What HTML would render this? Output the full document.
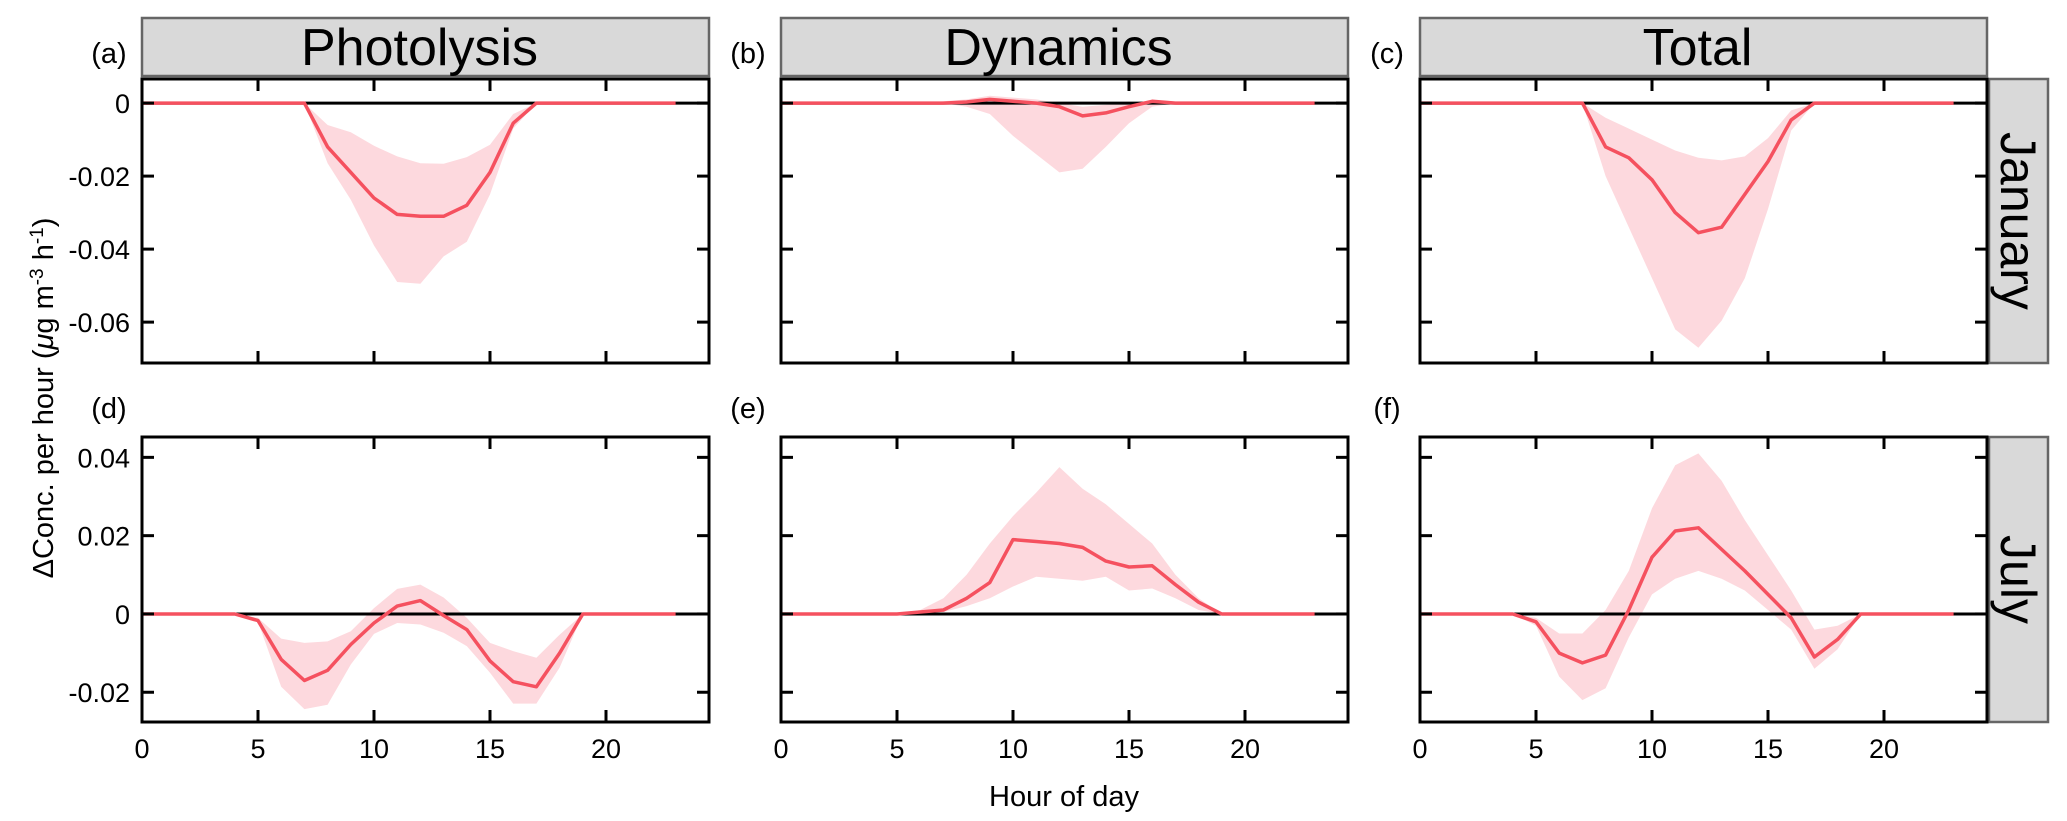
<!DOCTYPE html>
<html><head><meta charset="utf-8"><style>
html,body{margin:0;padding:0;background:#fff;}
svg{display:block;font-family:"Liberation Sans",sans-serif;}
</style></head><body>
<svg id="chart" width="2067" height="821" viewBox="0 0 2067 821"></svg>
<script>
const hours = [0,1,2,3,4,5,6,7,8,9,10,11,12,13,14,15,16,17,18,19,20,21,22,23];
const xTicks = [0,5,10,15,20];
const janTicks = [0,-0.02,-0.04,-0.06];
const julTicks = [0.04,0.02,0,-0.02];
const colTitles = ["Photolysis","Dynamics","Total"];
const rowTitles = ["January","July"];
const panelLabels = ["(a)","(b)","(c)","(d)","(e)","(f)"];

const aMean = [0,0,0,0,0,0,0,0,-0.012,-0.019,-0.026,-0.0305,-0.031,-0.031,-0.028,-0.019,-0.0055,0,0,0,0,0,0,0];
const aHigh = [0,0,0,0,0,0,0,0,-0.006,-0.008,-0.0117,-0.0146,-0.0165,-0.0166,-0.0148,-0.0114,-0.003,0,0,0,0,0,0,0];
const aLow  = [0,0,0,0,0,0,0,0,-0.0165,-0.0265,-0.039,-0.049,-0.0495,-0.042,-0.038,-0.025,-0.007,0,0,0,0,0,0,0];
const bMean = [0,0,0,0,0,0,0,0,0.0003,0.001,0.0005,0,-0.001,-0.0035,-0.0027,-0.001,0.0005,0,0,0,0,0,0,0];
const bHigh = [0,0,0,0,0,0,0,0.0005,0.001,0.002,0.0015,0.001,0,-0.001,-0.0005,0,0.0008,0,0,0,0,0,0,0];
const bLow  = [0,0,0,0,0,0,0,0,-0.001,-0.003,-0.009,-0.014,-0.019,-0.018,-0.012,-0.0055,-0.001,0,0,0,0,0,0,0];
const cMean = [0,0,0,0,0,0,0,0,-0.012,-0.015,-0.021,-0.030,-0.0355,-0.034,-0.025,-0.016,-0.0046,0,0,0,0,0,0,0];
const cHigh = [0,0,0,0,0,0,0,0,-0.004,-0.007,-0.010,-0.013,-0.015,-0.0157,-0.0146,-0.0096,-0.002,0,0,0,0,0,0,0];
const cLow  = [0,0,0,0,0,0,0,0,-0.02,-0.034,-0.048,-0.062,-0.067,-0.0596,-0.048,-0.029,-0.0075,0,0,0,0,0,0,0];
const dMean = [0,0,0,0,0,-0.0017,-0.0116,-0.017,-0.0144,-0.0078,-0.0023,0.002,0.0034,-0.0004,-0.004,-0.012,-0.0173,-0.0186,-0.01,0,0,0,0,0];
const dHigh = [0,0,0,0,0,-0.001,-0.0063,-0.0074,-0.007,-0.0044,0.0015,0.0064,0.0075,0.0042,-0.001,-0.0074,-0.0095,-0.0112,-0.0053,0,0,0,0,0];
const dLow  = [0,0,0,0,0,-0.002,-0.0186,-0.0243,-0.0232,-0.0129,-0.0051,-0.0023,-0.0027,-0.0048,-0.0082,-0.015,-0.0229,-0.0229,-0.0137,0,0,0,0,0];
const eMean = [0,0,0,0,0,0,0.0005,0.001,0.004,0.008,0.019,0.0185,0.018,0.017,0.0135,0.012,0.0123,0.0075,0.003,0,0,0,0,0];
const eHigh = [0,0,0,0,0,0,0.001,0.004,0.01,0.018,0.025,0.031,0.0375,0.032,0.028,0.023,0.018,0.01,0.004,0,0,0,0,0];
const eLow  = [0,0,0,0,0,0,0,0.0005,0.002,0.004,0.007,0.0095,0.009,0.0085,0.0095,0.006,0.0065,0.004,0.001,0,0,0,0,0];
const fMean = [0,0,0,0,0,-0.002,-0.010,-0.0125,-0.0105,0.001,0.0145,0.0212,0.022,0.0165,0.011,0.005,-0.001,-0.011,-0.0065,0,0,0,0,0];
const fHigh = [0,0,0,0,0,-0.001,-0.005,-0.005,0.001,0.011,0.027,0.038,0.041,0.034,0.024,0.015,0.006,-0.004,-0.003,0,0,0,0,0];
const fLow  = [0,0,0,0,0,-0.003,-0.016,-0.022,-0.019,-0.006,0.005,0.009,0.011,0.009,0.006,0.001,-0.004,-0.014,-0.009,0,0,0,0,0];

const series = [[aMean,aHigh,aLow],[bMean,bHigh,bLow],[cMean,cHigh,cLow],[dMean,dHigh,dLow],[eMean,eHigh,eLow],[fMean,fHigh,fLow]];

const svg = document.getElementById('chart');
const NS = 'http://www.w3.org/2000/svg';
function mk(tag, attrs, parent){const e=document.createElementNS(NS,tag);for(const k in attrs)e.setAttribute(k,attrs[k]);(parent||svg).appendChild(e);return e;}

const colX = [142,781,1420];
const PW = 567;
const rows = [{top:79,bottom:363,y0:0.0066,y1:-0.0712,ticks:janTicks},{top:437,bottom:722,y0:0.0452,y1:-0.0276,ticks:julTicks}];
const XMAX = PW/23.2;

for(let c=0;c<3;c++){
  const g = mk('g',{});
  
  
  mk('rect',{x:colX[c],y:18,width:PW,height:58,fill:'#d9d9d9',stroke:'#666','stroke-width':2.5},g);
  const t = mk('text',{x:colX[c]+PW/2-6,y:65,'text-anchor':'middle','font-size':52,fill:'#000'},g);
  t.textContent = colTitles[c];
}
for(let r=0;r<2;r++){
  const R=rows[r];
  const g = mk('g',{});
  
  
  mk('rect',{x:1989,y:R.top,width:59,height:R.bottom-R.top,fill:'#d9d9d9',stroke:'#666','stroke-width':2.5},g);
  const cy=(R.top+R.bottom)/2;
  const t = mk('text',{x:2001,y:cy,'text-anchor':'middle','font-size':50,fill:'#000',transform:'rotate(90 2001 '+cy+')'},g);
  t.textContent = rowTitles[r];
}

for(let r=0;r<2;r++){
  for(let c=0;c<3;c++){
    const R=rows[r], L=colX[c], idx=r*3+c;
    const g = mk('g',{});
    
    
    const sx = h => L + h/XMAX*PW;
    const sy = v => R.top + (R.y0-v)/(R.y0-R.y1)*(R.bottom-R.top);
    const [mean,hi,lo] = series[idx];
    let d='';
    hours.forEach((h,i)=>{d+=(i?'L':'M')+sx(h).toFixed(1)+','+sy(hi[i]).toFixed(1);});
    for(let i=hours.length-1;i>=0;i--) d+='L'+sx(hours[i]).toFixed(1)+','+sy(lo[i]).toFixed(1);
    const band = mk('path',{d:d+'Z',fill:'#fdd9de',stroke:'none'},g);
    
    
    const z = mk('line',{x1:L,x2:L+PW,y1:sy(0),y2:sy(0),stroke:'#000','stroke-width':3},g);
    
    
    let m='';
    hours.forEach((h,i)=>{m+=(i?'L':'M')+sx(h).toFixed(1)+','+sy(mean[i]).toFixed(1);});
    const ml = mk('path',{d:m,fill:'none',stroke:'#f5515f','stroke-width':3.5,'stroke-linejoin':'round'},g);
    
    
    mk('rect',{x:L,y:R.top,width:PW,height:R.bottom-R.top,fill:'none',stroke:'#000','stroke-width':3},g);
    xTicks.forEach(t=>{
      if(t===0) return;
      const x=sx(t);
      mk('line',{x1:x,x2:x,y1:R.bottom,y2:R.bottom-12,stroke:'#000','stroke-width':3},g);
      mk('line',{x1:x,x2:x,y1:R.top,y2:R.top+12,stroke:'#000','stroke-width':3},g);
    });
    if(r===1){
      xTicks.forEach(t=>{
        const tx = mk('text',{x:sx(t),y:758,'text-anchor':'middle','font-size':27,fill:'#000'},g);
        
        
        tx.textContent = t;
      });
    }
    R.ticks.forEach(t=>{
      const y=sy(t);
      mk('line',{x1:L,x2:L+12,y1:y,y2:y,stroke:'#000','stroke-width':3},g);
      mk('line',{x1:L+PW,x2:L+PW-12,y1:y,y2:y,stroke:'#000','stroke-width':3},g);
      if(c===0){
        const ty = mk('text',{x:L-12,y:y+10,'text-anchor':'end','font-size':27,fill:'#000'},g);
        
        
        ty.textContent = t===0?'0':String(t);
      }
    });
    const pl = mk('text',{x:L-33,y:r===0?63:418,'text-anchor':'middle','font-size':29,fill:'#000'},g);
    
    
    pl.textContent = panelLabels[idx];
  }
}
const xt = mk('text',{x:1064,y:806,'text-anchor':'middle','font-size':29,fill:'#000'});


xt.textContent='Hour of day';
const yt = mk('text',{x:0,y:0,'text-anchor':'middle','font-size':29,fill:'#000',transform:'translate(53 398) rotate(-90)'});


yt.innerHTML='ΔConc. per hour (<tspan font-style="italic">μ</tspan>g m<tspan baseline-shift="super" font-size="19">-3</tspan> h<tspan baseline-shift="super" font-size="19">-1</tspan>)';
</script>
</body></html>
